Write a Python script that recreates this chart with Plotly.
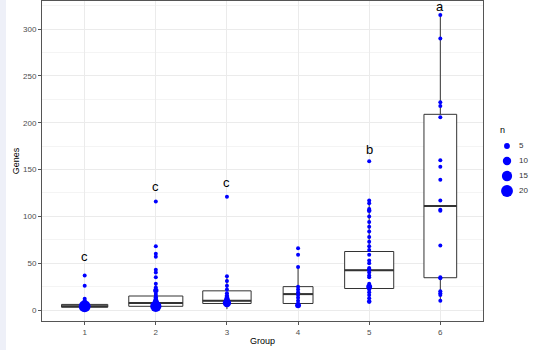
import plotly.graph_objects as go
import numpy as np

# ---- data ----
groups = [1, 2, 3, 4, 5, 6]
group_labels = ["1", "2", "3", "4", "5", "6"]

# box statistics per group (Genes)
q1 = [3, 4, 7, 7, 23, 34.5]
median = [4, 7.5, 10, 17, 42.5, 111]
q3 = [6, 15, 20.5, 25, 62.5, 209]
lowerfence = [1, 1, 1, 3.5, 9, 10]
upperfence = [10, 28, 35, 46, 117, 315]
box_widths = [0.65, 0.76, 0.68, 0.42, 0.69, 0.46]   # varwidth-like

# points: Genes values and counts n per group
pts_y = {
    1: [37, 26, 12, 10, 8, 6, 4, 3],
    2: [116, 68, 60, 57, 43, 40, 35, 28, 24, 21, 17, 15, 13, 11, 9, 7, 4],
    3: [121, 36, 31, 26, 22, 18, 15, 12, 10, 7.5],
    4: [66, 59, 46, 25, 22, 19, 16, 13, 10, 7, 5],
    5: [159, 117, 114, 108, 106, 100, 94, 89, 84, 78, 73, 68, 64, 59, 53, 50,
        45, 43, 40, 37, 35, 28, 25, 22, 19, 16, 12.5, 9],
    6: [315, 290, 222, 218, 206, 160, 153, 139, 117, 107, 106, 69, 35, 34, 20, 18, 16, 10],
}
pts_n = {
    1: [1, 1, 2, 2, 4, 6, 20, 8],
    2: [1, 1, 1, 1, 1, 1, 1, 1, 1, 4, 2, 2, 3, 3, 5, 6, 18],
    3: [1, 1, 1, 1, 1, 2, 3, 4, 5, 10],
    4: [2, 2, 1, 2, 1, 1, 2, 1, 1, 2, 5],
    5: [1, 1, 1, 1, 3, 1, 1, 1, 1, 1, 1, 1, 1, 1, 2, 1,
        1, 3, 2, 2, 2, 1, 5, 2, 1, 1, 2, 3],
    6: [1, 1, 2, 2, 1, 1, 1, 1, 1, 1, 2, 2, 2, 1, 1, 2, 1, 1],
}

# significance letters
letters = ["c", "c", "c", "", "b", "a"]
letter_y = [57, 132, 136, None, 171, 324]

legend_n = [5, 10, 15, 20]
legend_title = "n"


def n_to_px(n):
    return max(4, 2.65 * np.sqrt(n))


fig = go.Figure()

# boxes
for g, a, m, b, lo, hi, w in zip(groups, q1, median, q3, lowerfence, upperfence, box_widths):
    fig.add_trace(go.Box(
        x=[g], q1=[a], median=[m], q3=[b], lowerfence=[lo], upperfence=[hi],
        width=w, fillcolor="white", line=dict(color="#333333", width=1),
        boxpoints=False, showlegend=False, hoverinfo="skip", whiskerwidth=0,
    ))
    # thicker median line (ggplot style)
    fig.add_trace(go.Scatter(
        x=[g - w / 2, g + w / 2], y=[m, m], mode="lines",
        line=dict(color="#333333", width=2), showlegend=False, hoverinfo="skip",
    ))

# points
xs, ys, ss = [], [], []
for g in groups:
    for v, n in zip(pts_y[g], pts_n[g]):
        xs.append(g)
        ys.append(v)
        ss.append(n_to_px(n))
fig.add_trace(go.Scatter(
    x=xs, y=ys, mode="markers",
    marker=dict(color="#0000FF", size=ss, opacity=1, line=dict(width=0)),
    showlegend=False,
))

# manual legend on its own axes
leg_idx = list(range(len(legend_n)))
fig.add_trace(go.Scatter(
    x=[17] * len(legend_n), y=leg_idx, mode="markers",
    marker=dict(color="#0000FF", size=[n_to_px(n) for n in legend_n], opacity=1, line=dict(width=0)),
    xaxis="x2", yaxis="y2", showlegend=False, hoverinfo="skip",
))
fig.add_trace(go.Scatter(
    x=[29] * len(legend_n), y=leg_idx, mode="text",
    text=[str(n) for n in legend_n], textposition="middle right",
    textfont=dict(size=8, color="#333333"),
    xaxis="x2", yaxis="y2", showlegend=False, hoverinfo="skip",
))
fig.add_annotation(x=8, y=-1.1, xref="x2", yref="y2", text=legend_title, showarrow=False,
                   xanchor="left", yanchor="middle", font=dict(size=9, color="black"))

# letters
for g, t, yv in zip(groups, letters, letter_y):
    if t:
        fig.add_annotation(x=g, y=yv, text=t, showarrow=False,
                           font=dict(size=13, color="black", family="Liberation Sans, Arial"),
                           yanchor="middle")

# left strip background
fig.add_shape(type="rect", xref="paper", yref="paper",
              x0=-42 / 499, x1=-36 / 499, y0=-29 / 320, y1=1 + 1 / 320,
              fillcolor="#eef0f8", line=dict(width=0), layer="below")

axis_common = dict(
    showline=True, linecolor="#555555", linewidth=1, mirror=True,
    ticks="outside", ticklen=3, tickcolor="#555555", tickwidth=1,
    tickfont=dict(size=8, color="#4d4d4d"), zeroline=False,
    gridcolor="#ebebeb", gridwidth=1,
)

fig.update_layout(
    width=541, height=350,
    margin=dict(l=42, r=0, t=1, b=29),
    paper_bgcolor="white", plot_bgcolor="white",
    font=dict(family="Liberation Sans, Arial", color="black"),
    boxmode="overlay",
    showlegend=False,
    xaxis=dict(
        domain=[0, 441 / 499],
        range=[0.4, 6.6], tickmode="array", tickvals=groups, ticktext=group_labels,
        title=dict(text="Group", font=dict(size=9), standoff=2),
        **axis_common,
    ),
    yaxis=dict(
        range=[-11.7, 330], tickmode="linear", tick0=0, dtick=50,
        title=dict(text="Genes", font=dict(size=9), standoff=1),
        minor=dict(dtick=25, tick0=0, showgrid=True, gridcolor="#f4f4f4", gridwidth=0.5, ticks=""),
        **axis_common,
    ),
    xaxis2=dict(domain=[448 / 499, 498 / 499], range=[0, 50], visible=False,
                anchor="y2", fixedrange=True),
    yaxis2=dict(domain=[0, 1], range=[11.667, -9.667], visible=False,
                anchor="x2", fixedrange=True),
)

fig.write_html("out.html")
